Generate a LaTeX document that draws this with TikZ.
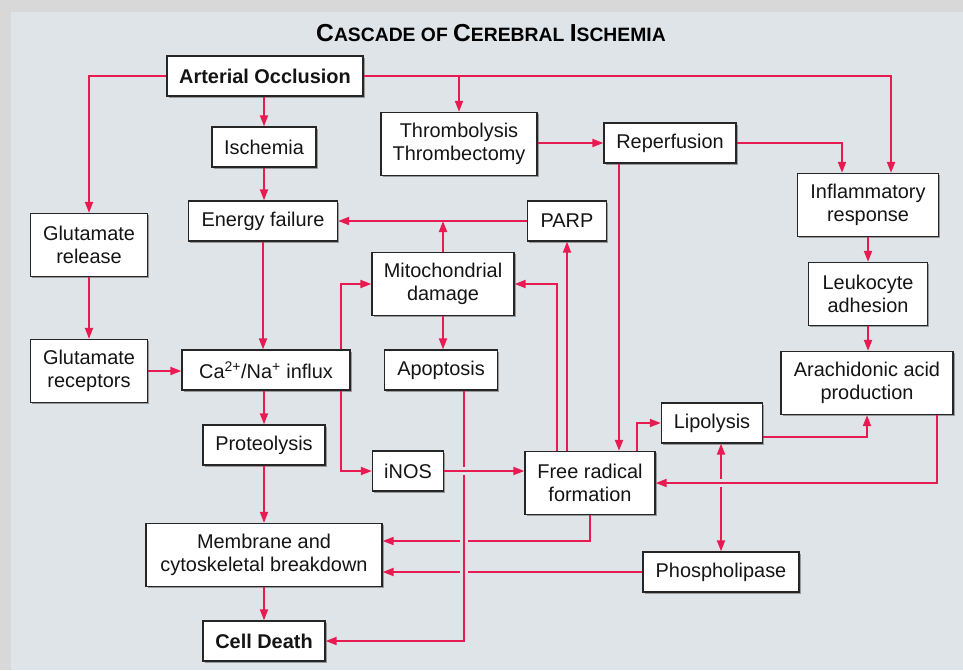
\documentclass[tikz,border=0pt]{standalone}
\usepackage{fontspec}
\setmainfont{Liberation Sans}
\usetikzlibrary{arrows.meta,shadows}
\definecolor{linkred}{RGB}{232,26,82}
\definecolor{panelbg}{RGB}{223,228,232}
\definecolor{outerbg}{RGB}{216,216,216}
\definecolor{inktext}{RGB}{20,20,20}

\begin{document}
\begin{tikzpicture}[x=0.03cm,y=-0.03cm,
  every node/.style={font=\fontsize{17}{19.6}\selectfont,text=inktext},
  box/.style={rectangle,draw=black!85,line width=1pt,fill=white,align=center,inner sep=0pt,
    minimum height=1.2cm,drop shadow={shadow xshift=1.5pt,shadow yshift=-1.5pt,opacity=0.75}},
  tallbox/.style={box,minimum height=1.89cm},
  link/.style={-{Triangle[length=9.5pt,width=6.8pt]},line width=1.8pt,draw=linkred},
  bothlink/.style={{Triangle[length=9.5pt,width=6.8pt]}-{Triangle[length=9.5pt,width=6.8pt]},line width=1.8pt,draw=linkred},
  gap/.style={draw=panelbg,line width=4pt},
]

\useasboundingbox (0,0) rectangle (963,670);
\fill[outerbg] (0,0) rectangle (963,670);
\fill[panelbg] (11,12) rectangle (963,670);

% ---------- Title ----------
\node[font=\bfseries,text=black] (TITLE) at (491,33) {{\fontsize{21}{21}\selectfont C}{\fontsize{16.5}{21}\selectfont ASCADE OF }{\fontsize{21}{21}\selectfont C}{\fontsize{16.5}{21}\selectfont EREBRAL }{\fontsize{21}{21}\selectfont I}{\fontsize{16.5}{21}\selectfont SCHEMIA}};

% ---------- Boxes ----------
\node[box,minimum width=5.88cm] (AO) at (265,76) {\textbf{Arterial Occlusion}};
\node[box,minimum width=3.12cm] (ISC) at (264,147) {Ischemia};
\node[tallbox,minimum width=4.68cm] (THR) at (459,144) {Thrombolysis\\Thrombectomy};
\node[box,minimum width=3.96cm] (REP) at (670,143) {Reperfusion};
\node[tallbox,minimum width=4.23cm] (INF) at (868,205) {Inflammatory\\response};
\node[tallbox,minimum width=3.51cm] (GREL) at (89,245) {Glutamate\\release};
\node[box,minimum width=4.47cm] (EF) at (263,221) {Energy failure};
\node[box,minimum width=2.37cm] (PARP) at (567,221) {PARP};
\node[tallbox,minimum width=4.26cm] (MITO) at (443,284) {Mitochondrial\\damage};
\node[tallbox,minimum width=3.57cm] (LEU) at (868,294) {Leukocyte\\adhesion};
\node[tallbox,minimum width=3.51cm] (GREC) at (89,371) {Glutamate\\receptors};
\node[box,minimum width=5.04cm] (CA) at (266,370) {Ca\textsuperscript{2+}/Na\textsuperscript{+} influx};
\node[box,minimum width=3.39cm] (APO) at (441,370) {Apoptosis};
\node[tallbox,minimum width=5.16cm] (ARA) at (867,383) {Arachidonic acid\\production};
\node[box,minimum width=3.03cm] (LIPO) at (712,423) {Lipolysis};
\node[box,minimum width=3.66cm] (PROT) at (264,445) {Proteolysis};
\node[box,minimum width=2.13cm] (INOS) at (408,471) {iNOS};
\node[tallbox,minimum width=3.9cm] (FR) at (590,483) {Free radical\\formation};
\node[tallbox,minimum width=7.08cm] (MEM) at (264,555) {Membrane and\\cytoskeletal breakdown};
\node[box,minimum width=4.68cm] (PHOS) at (721,572) {Phospholipase};
\node[box,minimum width=3.66cm] (CD) at (264,641) {\textbf{Cell Death}};

% ---------- Left column ----------
\draw[link] (AO.west) -| (GREL.north);
\draw[link] (GREL.south) -- (GREC.north);
\draw[link] (GREC.east) -- (GREC.east -| CA.west);

% ---------- Central chain ----------
\draw[link] (ISC.north |- AO.south) -- (ISC.north);
\draw[link] (ISC.south) -- (ISC.south |- EF.north);
\draw[link] (EF.south) -- (EF.south |- CA.north);
\draw[link] (PROT.north |- CA.south) -- (PROT.north);
\draw[link] (PROT.south) -- (PROT.south |- MEM.north);
\draw[link] (MEM.south) -- (MEM.south |- CD.north);

% ---------- Top right ----------
\draw[link] (AO.east) -| ([xshift=0.69cm]INF.north);
\draw[link] (THR.north |- AO.east) -- (THR.north);
\draw[link] (THR.east |- REP.west) -- (REP.west);
\draw[link] (REP.east) -| ([xshift=-0.78cm]INF.north);
\draw[link] (INF.south) -- (LEU.north);
\draw[link] (LEU.south) -- (LEU.south |- ARA.north);

% ---------- Mitochondria / PARP ----------
\draw[link] (PARP.west) -- (EF.east);
\draw[link] (MITO.north) -- (MITO.north |- EF.east);
\draw[link] (MITO.south) -- (MITO.south |- APO.north);
\draw[link] ([xshift=-0.3cm]CA.north east) |- (MITO.west);
\draw[link] ([xshift=-0.3cm]CA.south east) |- (INOS.west);
\draw[link] ([xshift=-0.99cm]FR.north) |- (MITO.east);
\draw[link] (PARP.south |- FR.north) -- (PARP.south);
\draw[link] ([xshift=-1.53cm]REP.south) -- ([xshift=-1.53cm]REP.south |- FR.north);

% ---------- Lipid pathway ----------
\draw[link] ([xshift=1.41cm]FR.north) |- (LIPO.west);
\draw[link] ([yshift=-0.42cm]LIPO.east) -| (ARA.south);
\draw[bothlink] (PHOS.north) -- (PHOS.north |- LIPO.south);
\draw[gap] (PHOS.north |- FR.east) ++(0,-4) -- ++(0,8);
\draw[link] ([xshift=2.1cm]ARA.south) |- (FR.east);

% ---------- Toward cell death ----------
\coordinate (memA) at ([yshift=0.42cm]MEM.east);
\coordinate (apoX) at ([xshift=0.69cm]APO.south);
\draw[link] (FR.south) |- (memA);
\draw[link] (PHOS.west) -- (PHOS.west -| MEM.east);
\draw[gap] (apoX |- memA) ++(-4,0) -- ++(8,0);
\draw[gap] (apoX |- PHOS.west) ++(-4,0) -- ++(8,0);
\draw[link] (apoX) |- (CD.east);
\draw[gap] (apoX |- INOS.east) ++(0,-4) -- ++(0,8);
\draw[link] (INOS.east) -- (INOS.east -| FR.west);

\end{tikzpicture}
\end{document}
